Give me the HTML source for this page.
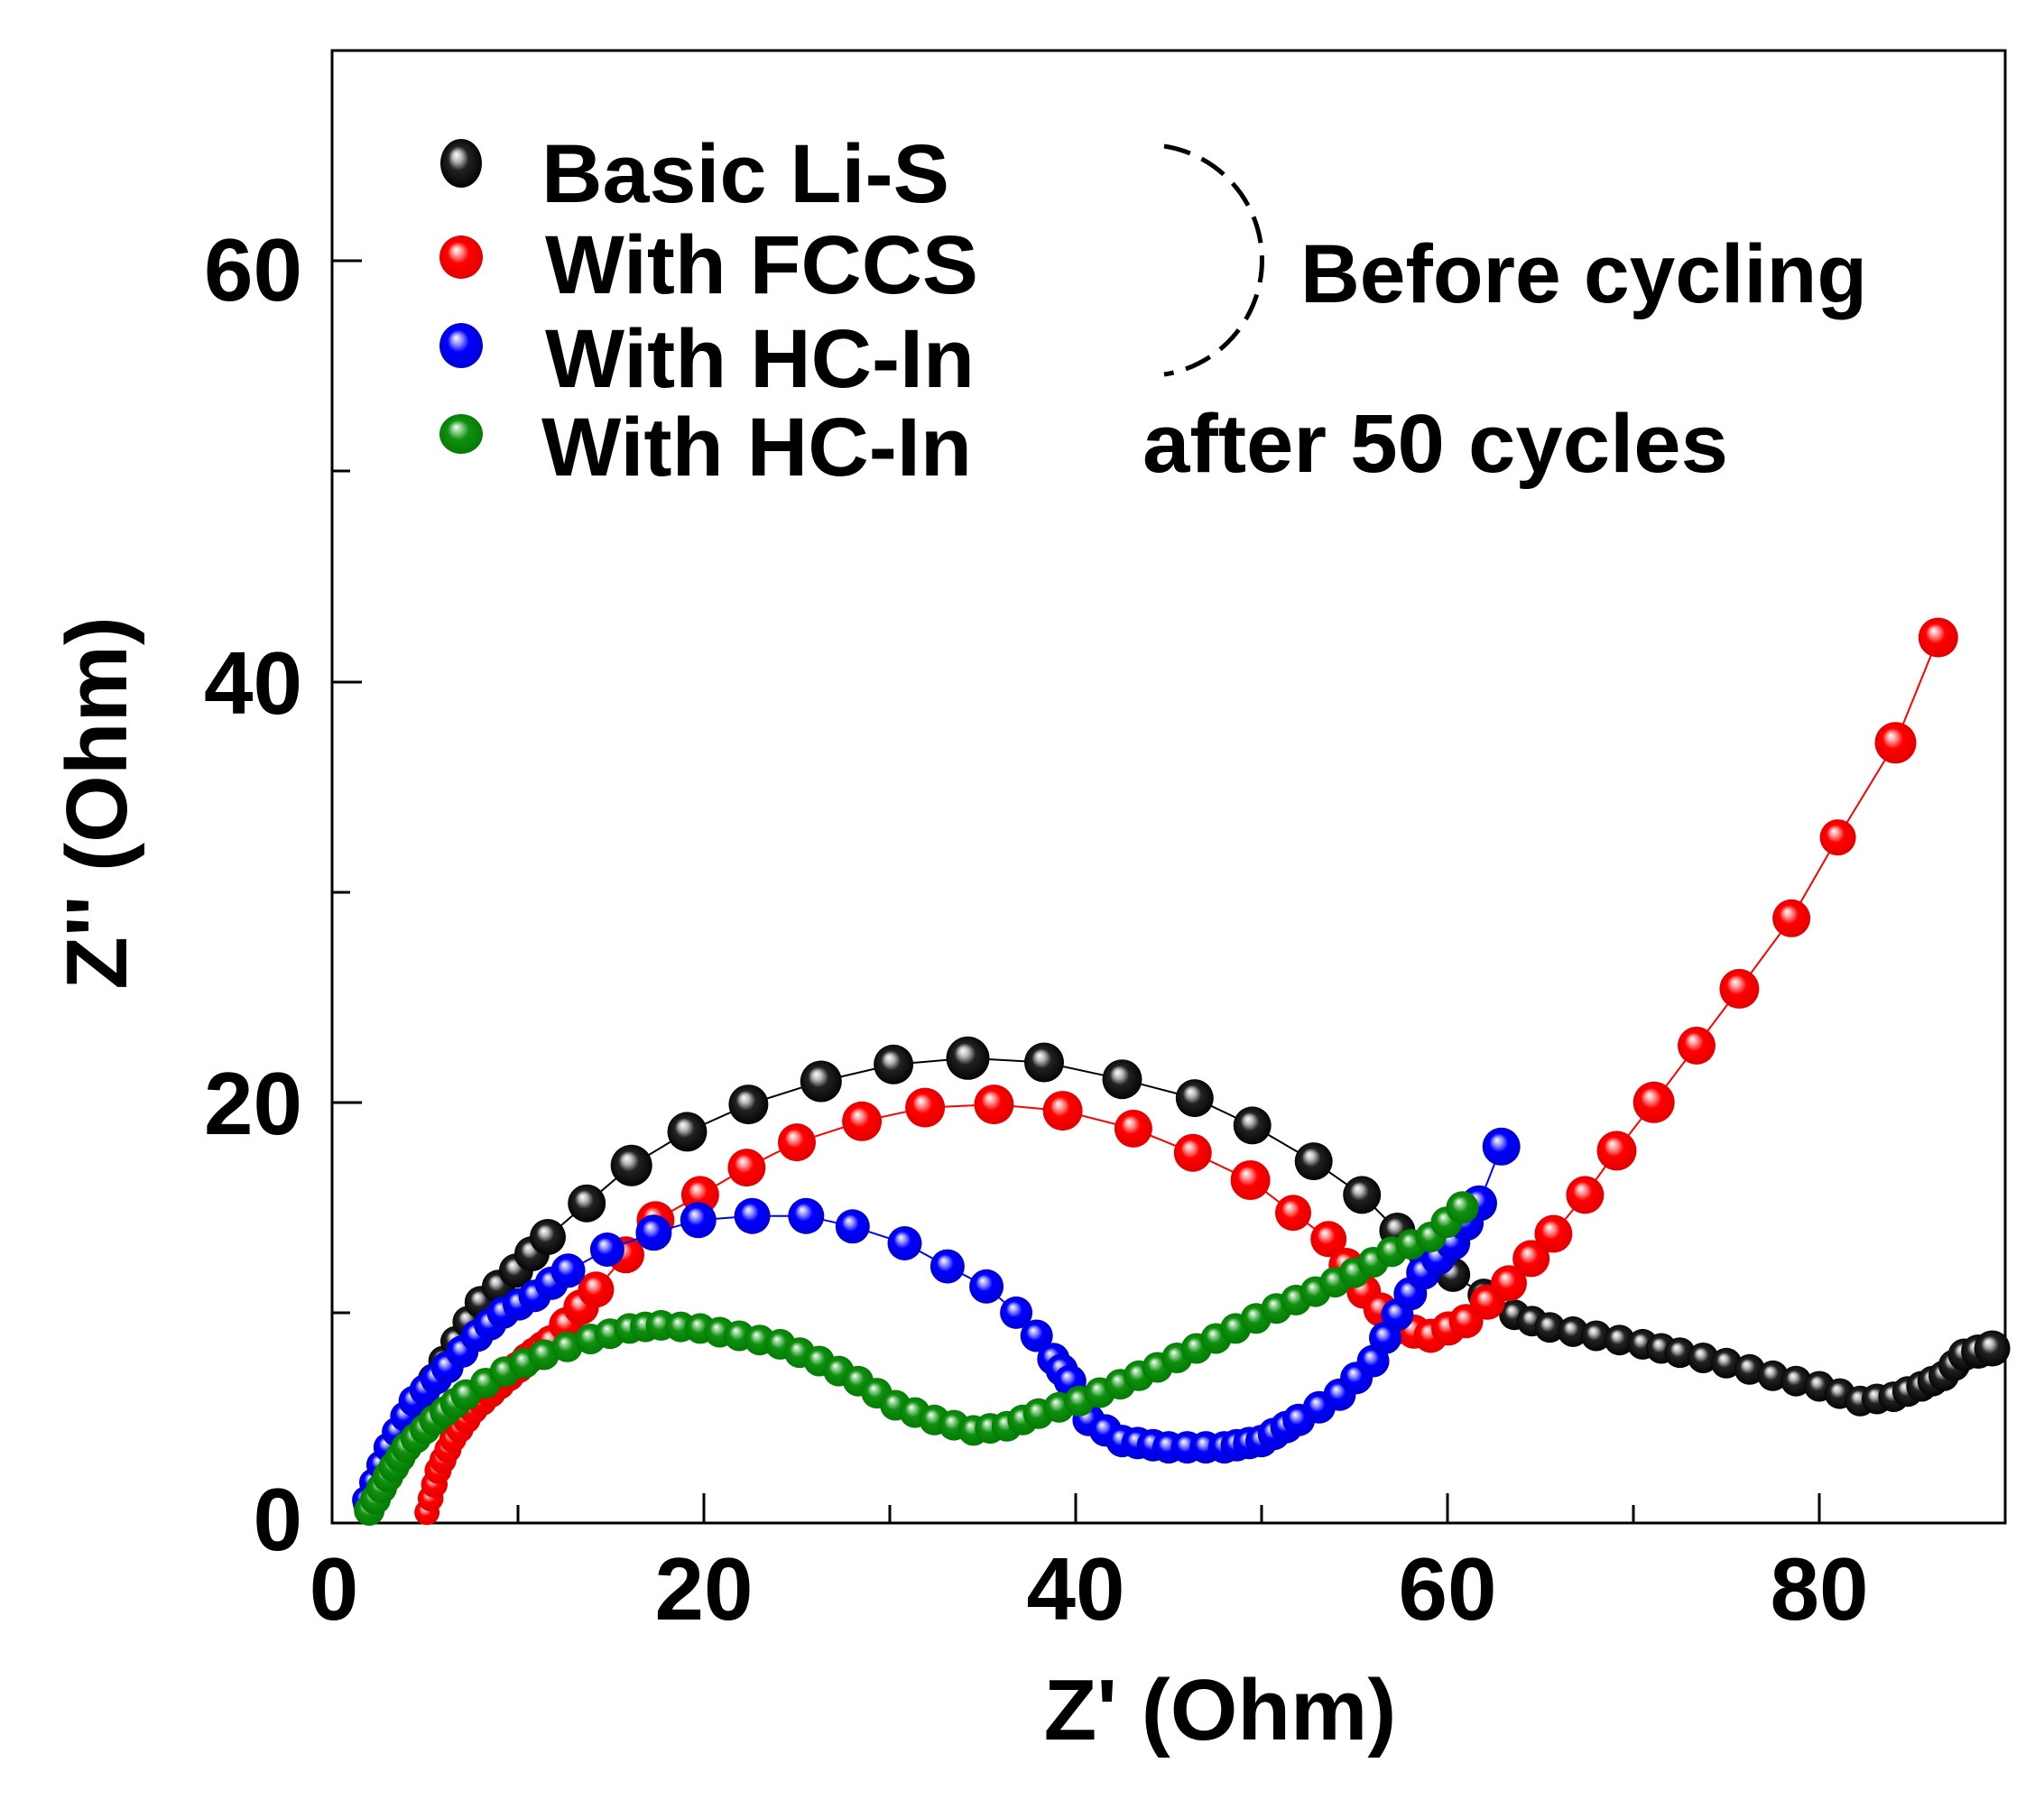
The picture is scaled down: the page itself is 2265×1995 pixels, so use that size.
<!DOCTYPE html>
<html><head><meta charset="utf-8"><style>
html,body{margin:0;padding:0;background:#fff}
svg{display:block}
text{font-family:"Liberation Sans",Arial,sans-serif;font-weight:bold;fill:#000}
</style></head><body>
<svg id="s" width="2265" height="1995" viewBox="0 0 2265 1995" xmlns="http://www.w3.org/2000/svg">
<defs>
<radialGradient id="gk" cx="50%" cy="50%" r="55%" fx="38%" fy="32%"><stop offset="0" stop-color="#fff"/><stop offset="0.2" stop-color="#bbb"/><stop offset="0.45" stop-color="#222"/><stop offset="1" stop-color="#000"/></radialGradient>
<radialGradient id="gr" cx="50%" cy="50%" r="55%" fx="38%" fy="32%"><stop offset="0" stop-color="#fff"/><stop offset="0.2" stop-color="#ff9a9a"/><stop offset="0.45" stop-color="#ff0000"/><stop offset="1" stop-color="#e00000"/></radialGradient>
<radialGradient id="gb" cx="50%" cy="50%" r="55%" fx="38%" fy="32%"><stop offset="0" stop-color="#fff"/><stop offset="0.2" stop-color="#9a9aff"/><stop offset="0.45" stop-color="#0000ff"/><stop offset="1" stop-color="#0000d0"/></radialGradient>
<radialGradient id="gg" cx="50%" cy="50%" r="55%" fx="38%" fy="32%"><stop offset="0" stop-color="#fff"/><stop offset="0.2" stop-color="#8fd08f"/><stop offset="0.45" stop-color="#109010"/><stop offset="1" stop-color="#007800"/></radialGradient>
</defs>
<rect x="368" y="56" width="1854" height="1632" fill="none" stroke="#000" stroke-width="3"/>
<g stroke="#000" stroke-width="3">
<line x1="368" y1="1688" x2="368" y2="1655"/>
<line x1="574" y1="1688" x2="574" y2="1668"/>
<line x1="780" y1="1688" x2="780" y2="1655"/>
<line x1="986" y1="1688" x2="986" y2="1668"/>
<line x1="1192" y1="1688" x2="1192" y2="1655"/>
<line x1="1398" y1="1688" x2="1398" y2="1668"/>
<line x1="1604" y1="1688" x2="1604" y2="1655"/>
<line x1="1810" y1="1688" x2="1810" y2="1668"/>
<line x1="2016" y1="1688" x2="2016" y2="1655"/>
<line x1="368" y1="1455" x2="388" y2="1455"/>
<line x1="368" y1="1222" x2="401" y2="1222"/>
<line x1="368" y1="989" x2="388" y2="989"/>
<line x1="368" y1="756" x2="401" y2="756"/>
<line x1="368" y1="522" x2="388" y2="522"/>
<line x1="368" y1="289" x2="401" y2="289"/>
</g>
<g font-size="98">
<text x="335" y="1718" text-anchor="end">0</text>
<text x="335" y="1257" text-anchor="end">20</text>
<text x="335" y="791" text-anchor="end">40</text>
<text x="335" y="333" text-anchor="end">60</text>
<text x="370" y="1795" text-anchor="middle">0</text>
<text x="780" y="1795" text-anchor="middle">20</text>
<text x="1192" y="1795" text-anchor="middle">40</text>
<text x="1604" y="1795" text-anchor="middle">60</text>
<text x="2016" y="1795" text-anchor="middle">80</text>
</g>
<text x="1352" y="1928" font-size="96" text-anchor="middle">Z' (Ohm)</text>
<text transform="translate(140,890) rotate(-90)" font-size="96" text-anchor="middle">Z'' (Ohm)</text>
<g font-size="92">
<text x="600" y="224" textLength="452" lengthAdjust="spacingAndGlyphs">Basic Li-S</text>
<text x="604" y="325" textLength="480" lengthAdjust="spacingAndGlyphs">With FCCS</text>
<text x="604" y="429" textLength="476" lengthAdjust="spacingAndGlyphs">With HC-In</text>
<text x="600" y="527" textLength="477" lengthAdjust="spacingAndGlyphs">With HC-In</text>
<text x="1441" y="335" textLength="628" lengthAdjust="spacingAndGlyphs">Before cycling</text>
<text x="1266" y="523" textLength="649" lengthAdjust="spacingAndGlyphs">after 50 cycles</text>
</g>
<path d="M1290,162 A128,128 0 0 1 1290,415" fill="none" stroke="#000" stroke-width="5" stroke-dasharray="30,14"/>
<g id="pts"></g>
<ellipse cx="511" cy="181" rx="23" ry="27" fill="url(#gk)"/>
<circle cx="511" cy="285" r="24" fill="url(#gr)"/>
<ellipse cx="511" cy="383" rx="24" ry="25" fill="url(#gb)"/>
<ellipse cx="511" cy="481" rx="24" ry="22" fill="url(#gg)"/>
</svg>
<script>
function X(v){return 368+20.6*v}
function Y(v){return 1688-23.31*v}
var S=[
{g:"gk",c:"#000",p:[[1.8,0.9,14,3],[3,3,15,2],[4.3,5.2,16,2],[6,7.7,17,2],[8,10.5,18,1],[9.9,12,19,1],[11.6,13.6,20,0],[13.7,15.2,21,0],[16.1,17,23,0],[19.1,18.6,22,0],[22.4,19.9,22,0],[26.3,21,23,0],[30.2,21.8,22,0],[34.2,22.1,24,0],[38.3,21.9,22,0],[42.5,21.1,22,0],[46.4,20.2,21,0],[49.5,18.9,21,0],[52.8,17.2,21,0],[55.4,15.6,21,0],[57.3,13.9,20,1],[60.3,11.8,19,1],[63.6,9.9,17,1],[65.5,9.3,17,1],[68,8.9,17,1],[70.5,8.5,17,1],[72.5,8.1,17,1],[75,7.6,17,1],[77.5,7,17,1],[80,6.5,17,1],[82.2,5.8,17,1],[84,6,17,1],[85.5,6.5,17,1],[86.7,7.0,17,1],[87.8,8.0,18,1],[89.3,8.3,20,0]]},
{g:"gr",c:"#f00",p:[[5.1,0.5,14,2],[5.7,2.5,15,2],[6.5,4,15,2],[7.6,5.4,16,2],[9,6.6,17,2],[10.5,7.8,18,2],[11.8,8.6,19,2],[14.2,11.1,20,1],[17.4,14.4,21,0],[19.8,15.6,21,0],[22.3,16.9,21,0],[25,18.1,21,0],[28.5,19.1,22,0],[31.9,19.75,22,0],[35.6,19.9,22,0],[39.3,19.6,22,0],[43.1,18.75,21,0],[46.3,17.6,21,0],[49.4,16.3,22,0],[51.7,14.75,20,0],[53.6,13.5,20,1],[55.5,11,19,1],[57.3,9.3,19,1],[59.1,8.9,19,1],[61,9.6,19,1],[63.3,11.4,20,1],[65.7,13.75,21,0],[67.4,15.6,21,0],[69.1,17.7,22,0],[71.1,20,23,0],[73.4,22.7,21,0],[75.7,25.4,22,0],[78.5,28.75,21,0],[81,32.6,20,0],[84.1,37.1,23,0],[86.4,42.1,22,0]]},
{g:"gb",c:"#00f",p:[[1.8,1.1,15,2],[3,3.6,16,2],[4.4,5.8,17,2],[6.2,7.4,18,1],[7.8,8.9,18,1],[9.2,10,18,1],[10.9,10.8,18,1],[12.7,12,19,0],[14.8,13,19,0],[17.3,13.8,20,0],[19.7,14.4,20,0],[22.6,14.6,20,0],[25.5,14.6,20,0],[28,14.1,19,0],[30.8,13.3,19,0],[33.1,12.2,19,0],[35.2,11.25,19,0],[36.8,10,18,0],[37.9,8.9,18,0],[38.8,7.8,18,1],[39.7,6.75,18,1],[40.7,4.9,18,1],[42.5,3.9,18,2],[45,3.6,18,2],[48,3.6,18,2],[50,3.9,18,2],[52,4.9,18,1],[54.2,6.1,18,1],[56,7.7,18,1],[57.3,9.9,18,1],[58.7,11.9,19,1],[60.3,13.3,19,1],[61.7,15.2,20,0],[62.9,17.9,21,0]]},
{g:"gg",c:"#080",p:[[2,0.6,17,2],[3,2.2,17,2],[4,3.6,17,2],[5.5,4.9,17,2],[7.2,6.1,17,1],[9.3,7.2,17,1],[11.4,8,17,1],[13.9,8.75,17,1],[16,9.25,17,1],[17.7,9.4,17,1],[19.8,9.25,17,1],[21.9,8.9,17,1],[24.1,8.5,17,1],[26.2,7.7,17,1],[28.3,6.75,17,1],[30.3,5.6,17,1],[32.4,4.9,17,1],[34.5,4.4,17,1],[36.3,4.6,17,1],[38,5.2,17,1],[40.2,5.8,17,1],[42.4,6.6,17,1],[44.4,7.4,17,1],[46.5,8.3,17,1],[48.6,9.25,17,1],[50.8,10.2,17,1],[52.9,11,17,1],[55,11.9,17,1],[57,12.9,17,1],[59.1,13.6,17,1],[60.8,15,18,0]]}
];
var ns="http://www.w3.org/2000/svg",G=document.getElementById("pts");
S.forEach(function(s){
 var m=[];
 for(var i=0;i<s.p.length;i++){var a=s.p[i];m.push([a[0],a[1],a[2]]);
  if(i<s.p.length-1){var b=s.p[i+1],n=a[3];for(var k=1;k<=n;k++){var t=k/(n+1);m.push([a[0]+(b[0]-a[0])*t,a[1]+(b[1]-a[1])*t,a[2]+(b[2]-a[2])*t]);}}}
 var pl=document.createElementNS(ns,"polyline");
 pl.setAttribute("points",m.map(function(q){return X(q[0]).toFixed(1)+","+Y(q[1]).toFixed(1)}).join(" "));
 pl.setAttribute("fill","none");pl.setAttribute("stroke",s.c);pl.setAttribute("stroke-width","2");G.appendChild(pl);
 m.forEach(function(q){var c=document.createElementNS(ns,"circle");c.setAttribute("cx",X(q[0]).toFixed(1));c.setAttribute("cy",Y(q[1]).toFixed(1));c.setAttribute("r",q[2].toFixed(1));c.setAttribute("fill","url(#"+s.g+")");G.appendChild(c);});
});
</script>
</body></html>
